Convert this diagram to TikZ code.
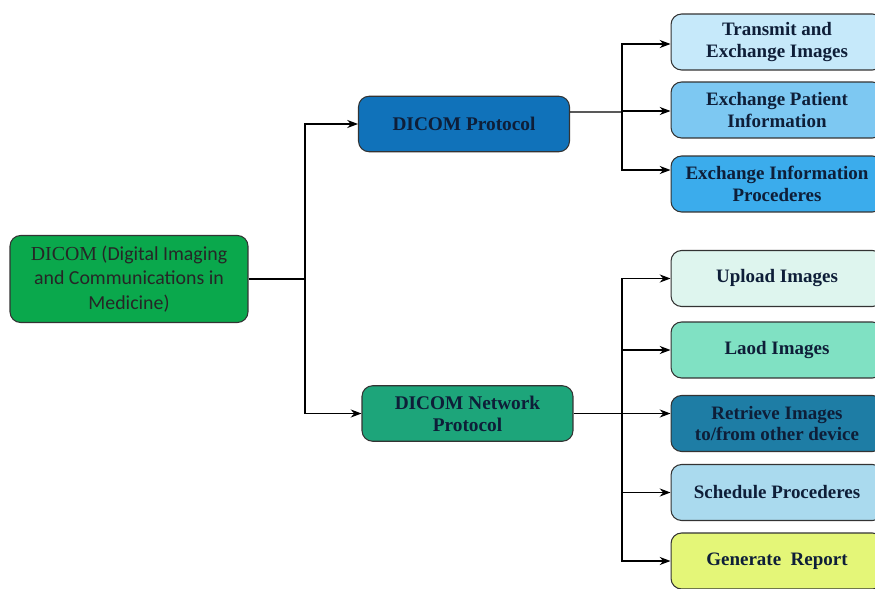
\documentclass[tikz,border=0pt]{standalone}
\usepackage{fontspec}
\setmainfont{Liberation Serif}
\setsansfont{Carlito}
\usetikzlibrary{arrows.meta}

\definecolor{rootgreen}{RGB}{10,168,76}
\definecolor{protoblue}{RGB}{16,114,186}
\definecolor{netgreen}{RGB}{29,165,122}
\definecolor{transmitfill}{RGB}{198,233,250}
\definecolor{patientfill}{RGB}{125,200,242}
\definecolor{procfill}{RGB}{59,172,236}
\definecolor{uploadfill}{RGB}{222,245,238}
\definecolor{laodfill}{RGB}{128,225,195}
\definecolor{retrievefill}{RGB}{30,125,165}
\definecolor{schedulefill}{RGB}{170,218,238}
\definecolor{reportfill}{RGB}{228,246,120}
\definecolor{boxtext}{RGB}{14,30,56}

\tikzset{
  box/.style={draw=black!80, rounded corners=6pt, line width=0.6pt,
    align=center, inner sep=2pt},
  rootbox/.style={box, minimum width=4.76cm, minimum height=1.74cm,
    font=\sffamily\fontsize{11.3}{13.8}\selectfont, text=black!85},
  midbox/.style={box, minimum width=4.22cm, minimum height=1.11cm,
    font=\bfseries\fontsize{11}{12.6}\selectfont, text=boxtext},
  leafbox/.style={box, minimum width=4.24cm, minimum height=1.12cm,
    font=\bfseries\fontsize{10.8}{12.3}\selectfont, text=boxtext},
  link/.style={line width=0.7pt, black},
}

\begin{document}
\begin{tikzpicture}[>=Stealth, x=0.02cm, y=-0.02cm]
  \useasboundingbox (0,0) rectangle (875,588);

  % main topic
  \node[rootbox, fill=rootgreen] (root) at (129,279)
    {{\rmfamily DICOM} (Digital Imaging\\and Communications in\\Medicine)};

  % the two protocols
  \node[midbox, fill=protoblue] (proto) at (464,124) {DICOM Protocol};
  \node[midbox, fill=netgreen] (net) at (467.5,413.5) {DICOM Network\\Protocol};

  % leaves of DICOM Protocol
  \node[leafbox, fill=transmitfill] (transmit) at (777,42) {Transmit and\\Exchange Images};
  \node[leafbox, fill=patientfill] (patient) at (777,110) {Exchange Patient\\Information};
  \node[leafbox, fill=procfill] (proc) at (777,184) {Exchange Information\\Procederes};

  % leaves of DICOM Network Protocol
  \node[leafbox, fill=uploadfill] (upload) at (777,278.5) {Upload Images};
  \node[leafbox, fill=laodfill] (laod) at (777,350) {Laod Images};
  \node[leafbox, fill=retrievefill] (retrieve) at (777,423.5) {Retrieve Images\\to/from other device};
  \node[leafbox, fill=schedulefill] (schedule) at (777,492.5) {Schedule Procederes};
  \node[leafbox, fill=reportfill] (report) at (777,561) {Generate~ Report};

  % branch points
  \coordinate (split) at (305,279);
  \coordinate (tapA) at (622,112);
  \coordinate (tapB) at (622,413.5);

  % root to protocols
  \draw[link] (root.east) -- (split);
  \draw[link,->] (split) |- (proto.west);
  \draw[link,->] (split) |- (net.west);

  % protocol to its leaves
  \draw[link] ([yshift=0.24cm]proto.east) -- (tapA);
  \draw[link,->] (tapA) |- ([yshift=-0.04cm]transmit.west);
  \draw[link,->] (tapA) |- ([yshift=-0.02cm]patient.west);
  \draw[link,->] (tapA) |- ([yshift=0.28cm]proc.west);

  % network protocol to its leaves
  \draw[link] (net.east) -- (tapB);
  \draw[link,->] (tapB) |- (upload.west);
  \draw[link,->] (tapB) |- (laod.west);
  \draw[link,->] (tapB) -- (tapB -| retrieve.west);
  \draw[link,->] (tapB) |- (schedule.west);
  \draw[link,->] (tapB) |- (report.west);
\end{tikzpicture}
\end{document}
